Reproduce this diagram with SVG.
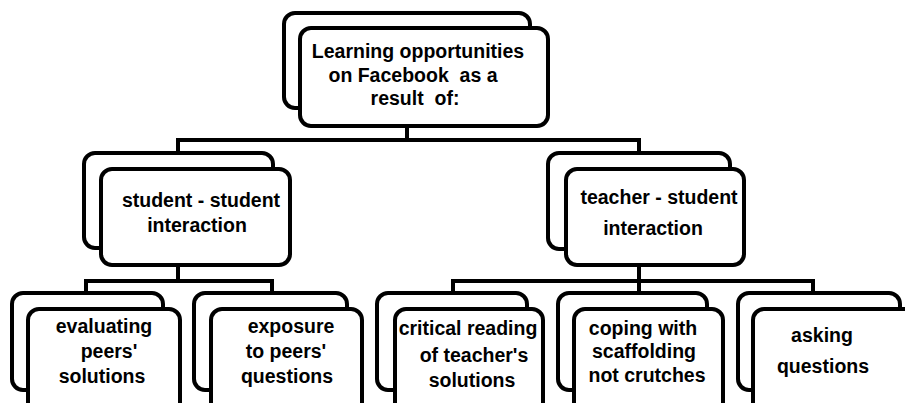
<svg xmlns="http://www.w3.org/2000/svg" width="905" height="403" viewBox="0 0 905 403">
  <style>
    .box { fill: #ffffff; stroke: #000000; stroke-width: 4; }
    .wire { fill: none; stroke: #000000; stroke-width: 4; }
    .label { font-family: "Liberation Sans", Arial, sans-serif; font-weight: bold; font-size: 19.5px; fill: #000000; text-anchor: middle; }
  </style>
  <rect width="905" height="403" fill="#ffffff"/>

  <!-- tree wiring -->
  <g id="connectors">
    <path class="wire" d="M407 125 V140 M178 153 V140 H639 V153"/>
    <path class="wire" d="M178 265 V281 M86 293 V281 H272 V293"/>
    <path class="wire" d="M639 265 V293 M453 293 V281 H813 V293"/>
  </g>

  <g id="root">
    <rect class="box" x="284" y="13" width="246" height="95" rx="11"/>
    <rect class="box" x="300" y="28" width="248" height="98" rx="11"/>
    <text class="label" x="418" y="58">Learning opportunities</text>
    <text class="label" x="413" y="82">on Facebook&#160; as a</text>
    <text class="label" x="415" y="105">result&#160; of:</text>
  </g>

  <g id="student-student">
    <rect class="box" x="84" y="153" width="189" height="95" rx="11"/>
    <rect class="box" x="101" y="169" width="189" height="96" rx="11"/>
    <text class="label" x="201" y="207">student - student</text>
    <text class="label" x="197" y="232">interaction</text>
  </g>

  <g id="teacher-student">
    <rect class="box" x="548" y="153" width="182" height="96" rx="11"/>
    <rect class="box" x="566" y="169" width="178" height="96" rx="11"/>
    <text class="label" x="659" y="204">teacher - student</text>
    <text class="label" x="653" y="235">interaction</text>
  </g>

  <g id="evaluating">
    <rect class="box" x="12" y="293" width="151" height="97" rx="11"/>
    <rect class="box" x="28" y="309" width="152" height="111" rx="11"/>
    <text class="label" x="104" y="333">evaluating</text>
    <text class="label" x="109" y="358">peers'</text>
    <text class="label" x="102" y="383">solutions</text>
  </g>

  <g id="exposure">
    <rect class="box" x="194" y="293" width="153" height="97" rx="11"/>
    <rect class="box" x="211" y="309" width="151" height="111" rx="11"/>
    <text class="label" x="291" y="333">exposure</text>
    <text class="label" x="286" y="358">to peers'</text>
    <text class="label" x="287" y="383">questions</text>
  </g>

  <g id="critical-reading">
    <rect class="box" x="377" y="293" width="150" height="97" rx="11"/>
    <rect class="box" x="395" y="309" width="148" height="111" rx="11"/>
    <text class="label" x="468" y="335">critical reading</text>
    <text class="label" x="474" y="362">of teacher's</text>
    <text class="label" x="472" y="387">solutions</text>
  </g>

  <g id="coping">
    <rect class="box" x="558" y="293" width="149" height="97" rx="11"/>
    <rect class="box" x="574" y="309" width="149" height="111" rx="11"/>
    <text class="label" x="643" y="335">coping with</text>
    <text class="label" x="644" y="358">scaffolding</text>
    <text class="label" x="647" y="382">not crutches</text>
  </g>

  <g id="asking">
    <rect class="box" x="738" y="293" width="162" height="97" rx="11"/>
    <rect class="box" x="753" y="309" width="177" height="111" rx="11"/>
    <text class="label" x="822" y="342">asking</text>
    <text class="label" x="823" y="373">questions</text>
  </g>
</svg>
